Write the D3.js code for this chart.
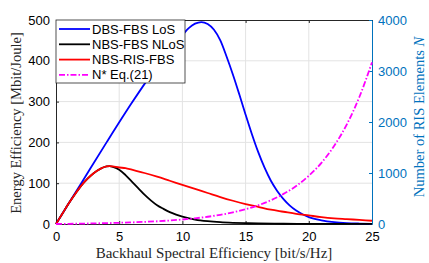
<!DOCTYPE html>
<html><head><meta charset="utf-8">
<script src="https://cdn.jsdelivr.net/npm/d3@7"></script>
<style>html,body{margin:0;padding:0;background:#fff;}svg{display:block;}</style>
</head><body>
<svg id="c" width="429" height="263"></svg>
<script>
// ---- data ----
const blueX = [0,2,4,6,8,9,10,10.5,11,11.5,12,12.5,13,13.5,14,14.5,15,15.5,16,16.5,17,17.5,18,18.5,19,19.5,20,21,22,23,24,25];
const blueY = [0,100,200,297,387,428,463,480,491,495,490,476,450,410,366,318,268,220,176,138,106,81,61,45,33,24,17,9,4.5,2.2,1.1,0.5];
const redX = [0,0.5,1,1.5,2,2.5,3,3.5,4,4.25,4.5,5,5.5,6,7,8,9,10,11,12,13,14,15,16,17,18,19,20,21,22,23,24,25];
const redY = [0,25,50,73,94,111,125,135,141,142,141,138.5,137,133,125,116,106,96,86,76,66,57,49,42,35,30,25,21,17,14,12,10,8];
const blackX = [0,0.5,1,1.5,2,2.5,3,3.5,4,4.25,4.5,5,5.5,6,6.5,7,7.5,8,8.5,9,9.5,10,11,12,13,14,15,16,18,20,25];
const blackY = [0,25,50,73,94,111,125,135,141,142,140,133,120,104,88,72,58,46,37,29,23,18,11,7,4.5,3,2,1.3,0.6,0.3,0.1];
const nX = [0,1,2,3,4,5,6,7,8,9,10,11,12,13,14,15,16,17,18,19,20,21,22,23,24,25];
const nY = [0,3,7,12,17,24,32,42,54,69,88,112,142,180,228,290,367,465,590,745,945,1200,1530,1950,2490,3170];
const seriesNames = ["DBS-FBS LoS","NBS-FBS NLoS","NBS-RIS-FBS","N* Eq.(21)"];
const xTicks = [0,5,10,15,20,25];
const yTicks = [0,100,200,300,400,500];
const y2Ticks = [0,1000,2000,3000,4000];

// ---- layout ----
const L = 56, R = 372, T = 20, B = 224;
const svg = d3.select("#c");
const x = d3.scaleLinear().domain([0,25]).range([L,R]);
const y = d3.scaleLinear().domain([0,500]).range([B,T]);
const y2 = d3.scaleLinear().domain([0,4000]).range([B,T]);
const axisCol = "#262626", blueAx = "#0072BD", gridCol = "#e3e3e3";
const tickFont = "Liberation Sans, Arial, sans-serif";
const serif = "Liberation Serif, Times New Roman, serif";

// grid
svg.append("g").selectAll("line").data(xTicks.slice(1,-1)).join("line")
  .attr("x1",d=>x(d)).attr("x2",d=>x(d)).attr("y1",T).attr("y2",B)
  .attr("stroke",gridCol).attr("stroke-width",1);
svg.append("g").selectAll("line").data(yTicks.slice(1,-1)).join("line")
  .attr("x1",L).attr("x2",R).attr("y1",d=>y(d)).attr("y2",d=>y(d))
  .attr("stroke",gridCol).attr("stroke-width",1);

// axes
const gx = svg.append("g").attr("transform",`translate(0,${B})`)
  .call(d3.axisBottom(x).tickValues(xTicks).tickSizeInner(-3).tickSizeOuter(0).tickPadding(8).tickFormat(d3.format("d")));
const gxt = svg.append("g").attr("transform",`translate(0,${T})`)
  .call(d3.axisTop(x).tickValues(xTicks).tickSizeInner(-3).tickSizeOuter(0).tickFormat(""));
const gy = svg.append("g").attr("transform",`translate(${L},0)`)
  .call(d3.axisLeft(y).tickValues(yTicks).tickSizeInner(-3).tickSizeOuter(0).tickPadding(6).tickFormat(d3.format("d")));
const gy2 = svg.append("g").attr("transform",`translate(${R},0)`)
  .call(d3.axisRight(y2).tickValues(y2Ticks).tickSizeInner(-3).tickSizeOuter(0).tickPadding(6).tickFormat(d3.format("d")));
[gx,gxt,gy].forEach(g=>{
  g.select(".domain").attr("stroke",axisCol).attr("stroke-width",1);
  g.selectAll(".tick line").attr("stroke",axisCol);
  g.selectAll(".tick text").attr("fill","#000").style("font-family",tickFont).style("font-size","13px");
});
gy2.select(".domain").attr("stroke",blueAx).attr("stroke-width",1);
gy2.selectAll(".tick line").attr("stroke",blueAx);
gy2.selectAll(".tick text").attr("fill",blueAx).style("font-family",tickFont).style("font-size","13px");

// lines
const mk = (xs,ys,sy)=>xs.map((v,i)=>[x(v),sy(ys[i])]);
const line = d3.line().curve(d3.curveMonotoneX);
const plot = svg.append("g");
const series = [
  {pts:mk(blueX,blueY,y), col:"#0000FF", dash:null},
  {pts:mk(blackX,blackY,y), col:"#000000", dash:null},
  {pts:mk(redX,redY,y), col:"#FF0000", dash:null},
  {pts:mk(nX,nY,y2), col:"#FF00FF", dash:"6,2,1.5,2"}
];
series.forEach(s=>{
  plot.append("path").attr("d",line(s.pts)).attr("fill","none")
    .attr("stroke",s.col).attr("stroke-width",1.8)
    .attr("stroke-dasharray",s.dash);
});

// legend
const lg = svg.append("g");
lg.append("rect").attr("x",L).attr("y",T).attr("width",129).attr("height",63)
  .attr("fill","#fff").attr("stroke",axisCol).attr("stroke-width",0.8);
seriesNames.forEach((n,i)=>{
  const yy = 29 + i*15.3;
  lg.append("line").attr("x1",59).attr("x2",90).attr("y1",yy).attr("y2",yy)
    .attr("stroke",series[i].col).attr("stroke-width",1.8).attr("stroke-dasharray",series[i].dash);
  lg.append("text").attr("x",92).attr("y",yy+4.5).text(n)
    .style("font-family",tickFont).style("font-size","13px").attr("fill","#000");
});

// titles
svg.append("text").attr("x",(L+R)/2 - 0).attr("y",258).attr("text-anchor","middle")
  .style("font-family",serif).style("font-size","15px").attr("fill","#262626")
  .text("Backhaul Spectral Efficiency [bit/s/Hz]");
svg.append("text").attr("transform","translate(21,123) rotate(-90)").attr("text-anchor","middle")
  .style("font-family",serif).style("font-size","14.5px").attr("fill","#262626")
  .text("Energy Efficiency [Mbit/Joule]");
const rt = svg.append("text").attr("transform","translate(424,117) rotate(-90)").attr("text-anchor","middle")
  .style("font-family",serif).style("font-size","14.5px").attr("fill",blueAx);
rt.append("tspan").text("Number of RIS Elements ");
rt.append("tspan").style("font-style","italic").text("N");
</script>
</body></html>
